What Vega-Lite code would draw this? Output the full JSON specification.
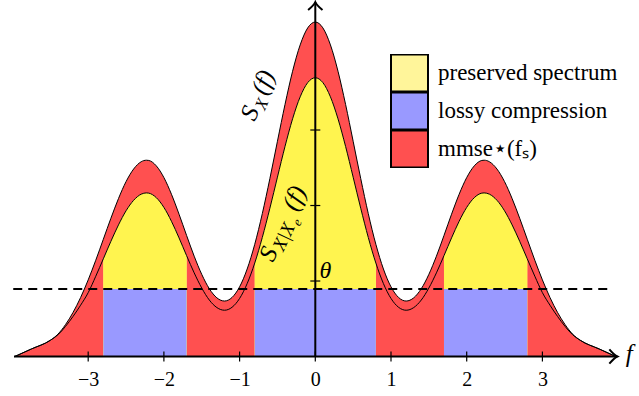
{
  "$schema": "https://vega.github.io/schema/vega-lite/v6.json",
  "width": 639,
  "height": 396,
  "padding": 0,
  "autosize": {"type": "none"},
  "background": "white",
  "config": {"view": {"stroke": null}},
  "datasets": {
    "curve": [
      {"f": -3.97, "o": 0, "i": 0, "band": "none"},
      {"f": -3.75, "o": 0.1, "i": 0.1, "band": "none"},
      {"f": -3.5, "o": 0.215, "i": 0.215, "band": "none"},
      {"f": -3.4, "o": 0.296, "i": 0.287, "band": "none"},
      {"f": -3.3, "o": 0.422, "i": 0.398, "band": "none"},
      {"f": -3.2, "o": 0.584, "i": 0.531, "band": "none"},
      {"f": -3.1, "o": 0.782, "i": 0.68, "band": "none"},
      {"f": -3.0, "o": 1.015, "i": 0.846, "band": "none"},
      {"f": -2.9, "o": 1.275, "i": 1.063, "band": "none"},
      {"f": -2.8, "o": 1.553, "i": 1.294, "band": "A"},
      {"f": -2.7, "o": 1.831, "i": 1.526, "band": "A"},
      {"f": -2.6, "o": 2.092, "i": 1.743, "band": "A"},
      {"f": -2.5, "o": 2.316, "i": 1.93, "band": "A"},
      {"f": -2.4, "o": 2.483, "i": 2.069, "band": "A"},
      {"f": -2.3, "o": 2.58, "i": 2.15, "band": "A"},
      {"f": -2.23, "o": 2.6, "i": 2.167, "band": "A"},
      {"f": -2.2, "o": 2.597, "i": 2.164, "band": "A"},
      {"f": -2.1, "o": 2.525, "i": 2.104, "band": "A"},
      {"f": -2.0, "o": 2.37, "i": 1.975, "band": "A"},
      {"f": -1.9, "o": 2.149, "i": 1.791, "band": "A"},
      {"f": -1.8, "o": 1.885, "i": 1.571, "band": "A"},
      {"f": -1.7, "o": 1.603, "i": 1.336, "band": "A"},
      {"f": -1.6, "o": 1.329, "i": 1.108, "band": "none"},
      {"f": -1.5, "o": 1.088, "i": 0.907, "band": "none"},
      {"f": -1.4, "o": 0.898, "i": 0.748, "band": "none"},
      {"f": -1.3, "o": 0.777, "i": 0.648, "band": "none"},
      {"f": -1.2, "o": 0.735, "i": 0.613, "band": "none"},
      {"f": -1.1, "o": 0.782, "i": 0.652, "band": "none"},
      {"f": -1.0, "o": 0.923, "i": 0.769, "band": "none"},
      {"f": -0.9, "o": 1.159, "i": 0.966, "band": "none"},
      {"f": -0.8, "o": 1.486, "i": 1.238, "band": "B"},
      {"f": -0.7, "o": 1.892, "i": 1.577, "band": "B"},
      {"f": -0.6, "o": 2.357, "i": 1.964, "band": "B"},
      {"f": -0.5, "o": 2.851, "i": 2.376, "band": "B"},
      {"f": -0.4, "o": 3.339, "i": 2.783, "band": "B"},
      {"f": -0.3, "o": 3.778, "i": 3.148, "band": "B"},
      {"f": -0.2, "o": 4.127, "i": 3.439, "band": "B"},
      {"f": -0.1, "o": 4.353, "i": 3.628, "band": "B"},
      {"f": 0.0, "o": 4.43, "i": 3.692, "band": "B"},
      {"f": 0.1, "o": 4.353, "i": 3.628, "band": "B"},
      {"f": 0.2, "o": 4.127, "i": 3.439, "band": "B"},
      {"f": 0.3, "o": 3.778, "i": 3.148, "band": "B"},
      {"f": 0.4, "o": 3.339, "i": 2.783, "band": "B"},
      {"f": 0.5, "o": 2.851, "i": 2.376, "band": "B"},
      {"f": 0.6, "o": 2.357, "i": 1.964, "band": "B"},
      {"f": 0.7, "o": 1.892, "i": 1.577, "band": "B"},
      {"f": 0.8, "o": 1.486, "i": 1.238, "band": "B"},
      {"f": 0.9, "o": 1.159, "i": 0.966, "band": "none"},
      {"f": 1.0, "o": 0.923, "i": 0.769, "band": "none"},
      {"f": 1.1, "o": 0.782, "i": 0.652, "band": "none"},
      {"f": 1.2, "o": 0.735, "i": 0.613, "band": "none"},
      {"f": 1.3, "o": 0.777, "i": 0.648, "band": "none"},
      {"f": 1.4, "o": 0.898, "i": 0.748, "band": "none"},
      {"f": 1.5, "o": 1.088, "i": 0.907, "band": "none"},
      {"f": 1.6, "o": 1.329, "i": 1.108, "band": "none"},
      {"f": 1.7, "o": 1.603, "i": 1.336, "band": "C"},
      {"f": 1.8, "o": 1.885, "i": 1.571, "band": "C"},
      {"f": 1.9, "o": 2.149, "i": 1.791, "band": "C"},
      {"f": 2.0, "o": 2.37, "i": 1.975, "band": "C"},
      {"f": 2.1, "o": 2.525, "i": 2.104, "band": "C"},
      {"f": 2.2, "o": 2.597, "i": 2.164, "band": "C"},
      {"f": 2.23, "o": 2.6, "i": 2.167, "band": "C"},
      {"f": 2.3, "o": 2.58, "i": 2.15, "band": "C"},
      {"f": 2.4, "o": 2.483, "i": 2.069, "band": "C"},
      {"f": 2.5, "o": 2.316, "i": 1.93, "band": "C"},
      {"f": 2.6, "o": 2.092, "i": 1.743, "band": "C"},
      {"f": 2.7, "o": 1.831, "i": 1.526, "band": "C"},
      {"f": 2.8, "o": 1.553, "i": 1.294, "band": "C"},
      {"f": 2.9, "o": 1.275, "i": 1.063, "band": "none"},
      {"f": 3.0, "o": 1.015, "i": 0.846, "band": "none"},
      {"f": 3.1, "o": 0.782, "i": 0.68, "band": "none"},
      {"f": 3.2, "o": 0.584, "i": 0.531, "band": "none"},
      {"f": 3.3, "o": 0.422, "i": 0.398, "band": "none"},
      {"f": 3.4, "o": 0.296, "i": 0.287, "band": "none"},
      {"f": 3.5, "o": 0.215, "i": 0.215, "band": "none"},
      {"f": 3.75, "o": 0.1, "i": 0.1, "band": "none"},
      {"f": 3.97, "o": 0, "i": 0, "band": "none"}
    ],
    "bands": [
      {"s": -2.8, "e": -1.7, "lo": 0, "theta": 0.894},
      {"s": -0.8, "e": 0.8, "lo": 0, "theta": 0.894},
      {"s": 1.7, "e": 2.8, "lo": 0, "theta": 0.894}
    ],
    "threshold": [{"x1": -3.99, "x2": 3.91, "theta": 0.894}],
    "axes": [
      {"x1": -3.98, "x2": 3.99, "y1": 0, "y2": 0},
      {"x1": 0, "x2": 0, "y1": 0, "y2": 4.695}
    ],
    "xticks": [{"t": -3}, {"t": -2}, {"t": -1}, {"t": 0}, {"t": 1}, {"t": 2}, {"t": 3}],
    "yticks": [{"t": 1}, {"t": 2}, {"t": 3}],
    "lab1": [{"fx": -0.8, "vy": 3.106}],
    "lab2": [{"fx": -0.56, "vy": 1.24}],
    "lab3": [{"fx": 0.055, "vy": 1.04}],
    "lab4": [{"fx": 4.1, "vy": -0.07}],
    "arrowx": [{"ax": 3.99, "ay": 0}],
    "arrowy": [{"ax": 0, "ay": 4.695}]
  },
  "layer": [
    {
      "data": {"name": "curve"},
      "mark": {"type": "area", "interpolate": "monotone"},
      "encoding": {
        "x": {"field": "f", "type": "quantitative", "scale": {"domain": [-4.165, 4.276], "nice": false, "zero": false},
          "axis": {"orient": "bottom", "offset": -39.5, "values": [-3, -2, -1, 0, 1, 2, 3], "domain": false, "ticks": false, "grid": false, "title": null,
            "labelFont": "Liberation Serif", "labelFontSize": 20, "labelColor": "black", "labelPadding": 13,
            "labelExpr": "datum.value < 0 ? '−' + abs(datum.value) : '' + datum.value"}},
        "y": {"field": "o", "type": "quantitative", "scale": {"domain": [-0.523, 4.722], "nice": false, "zero": false}, "axis": null},
        "y2": {"datum": 0},
        "color": {"datum": "mmse⋆(fₛ)", "type": "nominal",
          "scale": {"domain": ["preserved spectrum", "lossy compression", "mmse⋆(fₛ)"], "range": ["#FFF59A", "#9999FF", "#FF5050"]},
          "legend": {"orient": "none", "legendX": 390, "legendY": 54, "title": null, "symbolType": "square", "symbolSize": 1369,
            "symbolStrokeWidth": 2, "symbolStrokeColor": "black", "symbolOpacity": 1, "rowPadding": 0, "clipHeight": 38,
            "labelFont": "Liberation Serif", "labelFontSize": 23, "labelColor": "black", "labelOffset": 9, "labelLimit": 400,
            "padding": 0, "offset": 0}}
      }
    },
    {
      "data": {"name": "curve"},
      "transform": [{"filter": "datum.band != 'none'"}],
      "mark": {"type": "area", "interpolate": "monotone"},
      "encoding": {
        "x": {"field": "f", "type": "quantitative"},
        "y": {"field": "i", "type": "quantitative"},
        "y2": {"datum": 0},
        "detail": {"field": "band"},
        "color": {"datum": "preserved spectrum", "type": "nominal"}
      }
    },
    {
      "data": {"name": "curve"},
      "transform": [{"filter": "datum.band != 'none'"}],
      "mark": {"type": "area", "interpolate": "monotone", "color": "#FFF44F"},
      "encoding": {
        "x": {"field": "f", "type": "quantitative"},
        "y": {"field": "i", "type": "quantitative"},
        "y2": {"datum": 0},
        "detail": {"field": "band"}
      }
    },
    {
      "data": {"name": "bands"},
      "mark": {"type": "rect"},
      "encoding": {
        "x": {"field": "s", "type": "quantitative"},
        "x2": {"field": "e"},
        "y": {"field": "lo", "type": "quantitative"},
        "y2": {"field": "theta"},
        "color": {"datum": "lossy compression", "type": "nominal"}
      }
    },
    {
      "data": {"name": "curve"},
      "mark": {"type": "line", "interpolate": "monotone", "color": "black", "strokeWidth": 1},
      "encoding": {
        "x": {"field": "f", "type": "quantitative"},
        "y": {"field": "o", "type": "quantitative"}
      }
    },
    {
      "data": {"name": "curve"},
      "mark": {"type": "line", "interpolate": "monotone", "color": "black", "strokeWidth": 1},
      "encoding": {
        "x": {"field": "f", "type": "quantitative"},
        "y": {"field": "i", "type": "quantitative"}
      }
    },
    {
      "data": {"name": "threshold"},
      "mark": {"type": "rule", "color": "black", "strokeWidth": 2, "strokeDash": [9, 6]},
      "encoding": {
        "x": {"field": "x1", "type": "quantitative"},
        "x2": {"field": "x2"},
        "y": {"field": "theta", "type": "quantitative"}
      }
    },
    {
      "data": {"name": "axes"},
      "mark": {"type": "rule", "color": "black", "strokeWidth": 2},
      "encoding": {
        "x": {"field": "x1", "type": "quantitative"},
        "x2": {"field": "x2"},
        "y": {"field": "y1", "type": "quantitative"},
        "y2": {"field": "y2"}
      }
    },
    {
      "data": {"name": "xticks"},
      "mark": {"type": "tick", "orient": "vertical", "size": 10, "thickness": 1.2, "color": "black", "opacity": 1},
      "encoding": {
        "x": {"field": "t", "type": "quantitative"},
        "y": {"datum": 0, "type": "quantitative"}
      }
    },
    {
      "data": {"name": "yticks"},
      "mark": {"type": "tick", "orient": "horizontal", "size": 10, "thickness": 1.2, "color": "black", "opacity": 1},
      "encoding": {
        "x": {"datum": 0, "type": "quantitative"},
        "y": {"field": "t", "type": "quantitative"}
      }
    },
    {
      "data": {"name": "arrowx"},
      "mark": {"type": "point", "shape": "M -1 -0.9 Q -0.35 -0.15 0 0 Q -0.35 0.15 -1 0.9", "size": 256, "filled": false, "color": "black", "strokeWidth": 2, "opacity": 1},
      "encoding": {
        "x": {"field": "ax", "type": "quantitative"},
        "y": {"field": "ay", "type": "quantitative"}
      }
    },
    {
      "data": {"name": "arrowy"},
      "mark": {"type": "point", "shape": "M -1 -0.9 Q -0.35 -0.15 0 0 Q -0.35 0.15 -1 0.9", "size": 256, "filled": false, "color": "black", "strokeWidth": 2, "opacity": 1, "angle": -90},
      "encoding": {
        "x": {"field": "ax", "type": "quantitative"},
        "y": {"field": "ay", "type": "quantitative"}
      }
    },
    {
      "data": {"name": "lab1"},
      "mark": {"type": "text", "text": "S", "font": "Liberation Serif", "fontStyle": "italic", "fontSize": 25, "angle": -67, "align": "left", "baseline": "alphabetic", "color": "black"},
      "encoding": {"x": {"field": "fx", "type": "quantitative"}, "y": {"field": "vy", "type": "quantitative"}}
    },
    {
      "data": {"name": "lab1"},
      "mark": {"type": "text", "text": "X", "font": "Liberation Serif", "fontStyle": "italic", "fontSize": 17, "angle": -67, "align": "left", "baseline": "alphabetic", "dx": 14, "dy": 5, "color": "black"},
      "encoding": {"x": {"field": "fx", "type": "quantitative"}, "y": {"field": "vy", "type": "quantitative"}}
    },
    {
      "data": {"name": "lab1"},
      "mark": {"type": "text", "text": "(f)", "font": "Liberation Serif", "fontStyle": "italic", "fontSize": 25, "angle": -67, "align": "left", "baseline": "alphabetic", "dx": 28, "color": "black"},
      "encoding": {"x": {"field": "fx", "type": "quantitative"}, "y": {"field": "vy", "type": "quantitative"}}
    },
    {
      "data": {"name": "lab2"},
      "mark": {"type": "text", "text": "S", "font": "Liberation Serif", "fontStyle": "italic", "fontSize": 25, "angle": -65, "align": "left", "baseline": "alphabetic", "color": "black"},
      "encoding": {"x": {"field": "fx", "type": "quantitative"}, "y": {"field": "vy", "type": "quantitative"}}
    },
    {
      "data": {"name": "lab2"},
      "mark": {"type": "text", "text": "X|X", "font": "Liberation Serif", "fontStyle": "italic", "fontSize": 19, "angle": -65, "align": "left", "baseline": "alphabetic", "dx": 14, "dy": 5, "color": "black"},
      "encoding": {"x": {"field": "fx", "type": "quantitative"}, "y": {"field": "vy", "type": "quantitative"}}
    },
    {
      "data": {"name": "lab2"},
      "mark": {"type": "text", "text": "e", "font": "Liberation Serif", "fontStyle": "italic", "fontSize": 13, "angle": -65, "align": "left", "baseline": "alphabetic", "dx": 44, "dy": 9, "color": "black"},
      "encoding": {"x": {"field": "fx", "type": "quantitative"}, "y": {"field": "vy", "type": "quantitative"}}
    },
    {
      "data": {"name": "lab2"},
      "mark": {"type": "text", "text": "(f)", "font": "Liberation Serif", "fontStyle": "italic", "fontSize": 25, "angle": -65, "align": "left", "baseline": "alphabetic", "dx": 56, "color": "black"},
      "encoding": {"x": {"field": "fx", "type": "quantitative"}, "y": {"field": "vy", "type": "quantitative"}}
    },
    {
      "data": {"name": "lab3"},
      "mark": {"type": "text", "text": "θ", "font": "Liberation Serif", "fontStyle": "italic", "fontSize": 24, "align": "left", "baseline": "alphabetic", "color": "black"},
      "encoding": {"x": {"field": "fx", "type": "quantitative"}, "y": {"field": "vy", "type": "quantitative"}}
    },
    {
      "data": {"name": "lab4"},
      "mark": {"type": "text", "text": "f", "font": "Liberation Serif", "fontStyle": "italic", "fontSize": 25, "align": "left", "baseline": "alphabetic", "color": "black"},
      "encoding": {"x": {"field": "fx", "type": "quantitative"}, "y": {"field": "vy", "type": "quantitative"}}
    }
  ]
}
